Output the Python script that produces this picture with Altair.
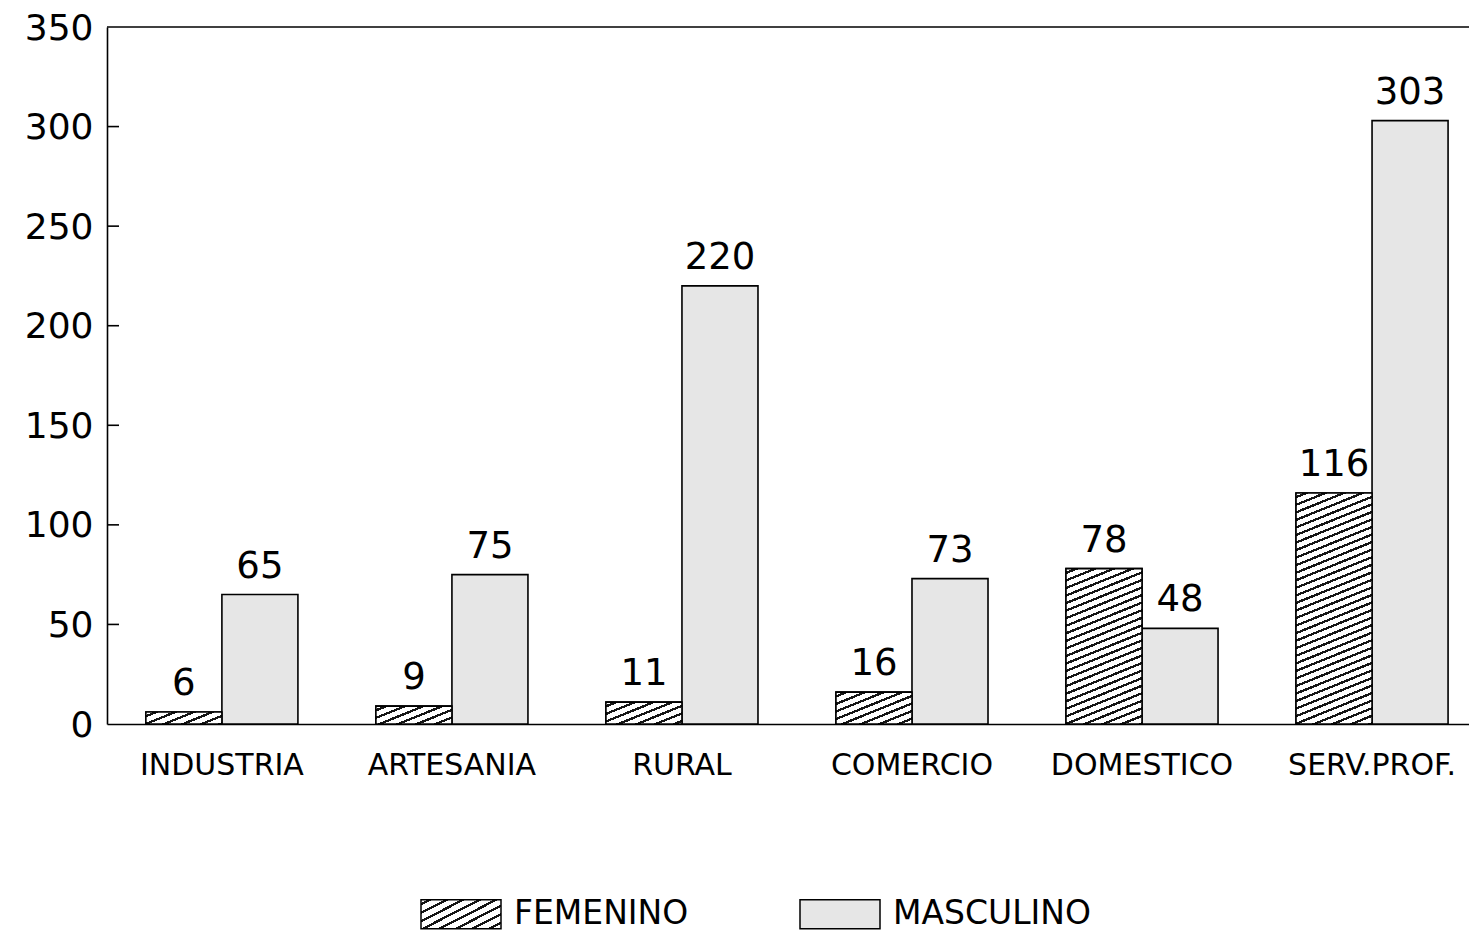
import math
import altair as alt
import pandas as pd

# ---------------- data ----------------
categories = ["INDUSTRIA", "ARTESANIA", "RURAL", "COMERCIO", "DOMESTICO", "SERV.PROF."]
series = ["FEMENINO", "MASCULINO"]
femenino = [6, 9, 11, 16, 78, 116]
masculino = [65, 75, 220, 73, 48, 303]
y_ticks = [0, 50, 100, 150, 200, 250, 300, 350]
inner_ticks = [50, 100, 150, 200, 250, 300]
y_top = [350]

rows = []
for c, f, m in zip(categories, femenino, masculino):
    rows.append({"cat": c, "serie": series[0], "valor": f})
    rows.append({"cat": c, "serie": series[1], "valor": m})
df = pd.DataFrame(rows)
ticks_df = pd.DataFrame({"valor": inner_ticks})
top_df = pd.DataFrame({"valor": y_top})

# ---------------- layout ----------------
W, H = 1362, 697
Y_MAX = 350
P_IN, P_OUT, ALIGN = 0.339, 0.13, 0.65
FONT = "DejaVu Sans"

step = W / (len(categories) - P_IN + 2 * P_OUT)
bar_w = step * (1 - P_IN) / 2


def hatch_stops(w, h, theta_deg=22, spacing=7.0, lw=2.3, ink="#151515"):
    th = math.radians(theta_deg)
    a = w * math.sin(th)
    b = h * math.cos(th)
    D = a + b
    k = D / (a * a + b * b)
    x2, y2 = a * k, b * k
    stops = [{"offset": 0, "color": "white"}]
    pos = spacing * 0.4
    while pos < D:
        t0 = pos / D
        t1 = min(1.0, (pos + lw) / D)
        stops += [
            {"offset": round(t0, 5), "color": "white"},
            {"offset": round(t0, 5), "color": ink},
            {"offset": round(t1, 5), "color": ink},
            {"offset": round(t1, 5), "color": "white"},
        ]
        pos += spacing
    stops.append({"offset": 1, "color": "white"})
    return x2, y2, stops


def hatch_gradient(w, h):
    x2, y2, stops = hatch_stops(w, h)
    return {"gradient": "linear", "x1": 0, "y1": 0, "x2": x2, "y2": y2, "stops": stops}


def hatch_expr(w, h):
    x2, y2, stops = hatch_stops(w, h, theta_deg=27, spacing=7.5)
    s = ",".join("{offset:%s,color:'%s'}" % (st["offset"], st["color"]) for st in stops)
    return "{gradient:'linear',x1:0,y1:0,x2:%s,y2:%s,stops:[%s]}" % (x2, y2, s)


# ---------------- encodings ----------------
x_enc = alt.X(
    "cat:N",
    sort=categories,
    scale=alt.Scale(paddingInner=P_IN, paddingOuter=P_OUT, align=ALIGN),
    axis=alt.Axis(
        title=None, labelAngle=0, tickSize=0, labelPadding=26,
        labelFont=FONT, labelFontSize=30, labelColor="black",
        domainColor="black", domainWidth=1.6, labelLimit=400,
    ),
)
xo_enc = alt.XOffset("serie:N", sort=series, scale=alt.Scale(paddingInner=0, paddingOuter=0))
y_enc = alt.Y(
    "valor:Q",
    scale=alt.Scale(domain=[0, Y_MAX], nice=False),
    axis=alt.Axis(
        title=None, values=y_ticks, grid=False, tickSize=0, labelPadding=14,
        labelOffset=1,
        labelFont=FONT, labelFontSize=36, labelColor="black",
        domainColor="black", domainWidth=1.6,
    ),
)

base = alt.Chart(df).encode(x=x_enc, xOffset=xo_enc, y=y_enc)

bars = base.mark_bar(stroke="black", strokeWidth=1.6).encode(
    color=alt.Color(
        "serie:N",
        scale=alt.Scale(domain=series, range=[{"expr": hatch_expr(80, 29)}, "#e6e6e6"]),
        legend=alt.Legend(
            title=None, orient="none", legendX=313, legendY=846, direction="horizontal",
            symbolType="M-1,-0.3625L1,-0.3625L1,0.3625L-1,0.3625Z", symbolSize=6400,
            symbolStrokeColor="black", symbolStrokeWidth=1.5, symbolOpacity=1,
            labelFont=FONT, labelFontSize=33, labelColor="black", labelOffset=12,
            labelLimit=400, columnPadding=108, padding=0,
        ),
    )
)

layers = [bars]
for c, v in zip(categories, femenino):
    h_px = v * H / Y_MAX
    layers.append(
        base.transform_filter(f"datum.serie == 'FEMENINO' && datum.cat == '{c}'")
        .mark_bar(fill=hatch_gradient(bar_w, h_px), stroke="black", strokeWidth=1.6)
    )

labels = base.mark_text(
    dy=-28, baseline="middle", font=FONT, fontSize=37, color="black"
).encode(text="valor:Q")
layers.append(labels)

ticks = alt.Chart(ticks_df).mark_rule(color="black", strokeWidth=1.6).encode(
    y=alt.Y("valor:Q"), x=alt.value(0), x2=alt.value(12)
)
top = alt.Chart(top_df).mark_rule(color="black", strokeWidth=1.6).encode(y=alt.Y("valor:Q"))
layers += [ticks, top]

chart = (
    alt.layer(*layers)
    .properties(
        width=W, height=H,
        autosize=alt.AutoSizeParams(type="none"),
        padding={"left": 99, "top": 19, "right": 0, "bottom": 207},
        background="white",
    )
    .configure_view(stroke=None)
)

chart.save("out.html", embed_options={"renderer": "svg", "actions": False})
